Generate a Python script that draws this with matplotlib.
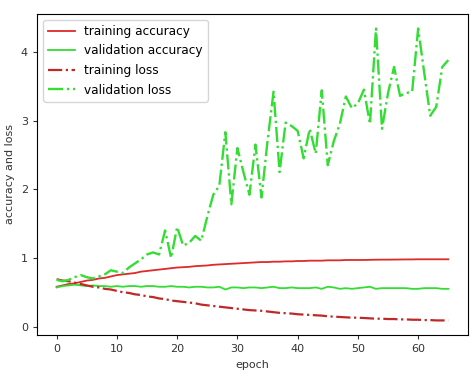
import matplotlib
matplotlib.use('Agg')
import matplotlib.pyplot as plt

# 训练过程数据
epochs = list(range(66))

train_acc = [0.58, 0.60, 0.62, 0.63, 0.65, 0.67, 0.68, 0.70, 0.71, 0.73,
             0.75, 0.76, 0.77, 0.78, 0.80, 0.81, 0.82, 0.83, 0.84, 0.85,
             0.86, 0.865, 0.87, 0.88, 0.885, 0.89, 0.90, 0.905, 0.91, 0.915,
             0.92, 0.925, 0.93, 0.935, 0.94, 0.94, 0.945, 0.945, 0.95, 0.95,
             0.955, 0.955, 0.96, 0.96, 0.96, 0.965, 0.965, 0.965, 0.97, 0.97,
             0.97, 0.97, 0.972, 0.974, 0.975, 0.975, 0.976, 0.977, 0.978, 0.978,
             0.98, 0.98, 0.98, 0.98, 0.98, 0.98]

val_acc = [0.57, 0.59, 0.60, 0.61, 0.60, 0.59, 0.60, 0.59, 0.59, 0.58,
           0.59, 0.58, 0.59, 0.59, 0.58, 0.59, 0.59, 0.58, 0.58, 0.59,
           0.58, 0.58, 0.57, 0.58, 0.58, 0.57, 0.57, 0.58, 0.54, 0.57,
           0.57, 0.56, 0.57, 0.57, 0.56, 0.57, 0.58, 0.56, 0.56, 0.57,
           0.56, 0.56, 0.56, 0.57, 0.55, 0.58, 0.57, 0.55, 0.56, 0.55,
           0.56, 0.57, 0.58, 0.55, 0.56, 0.56, 0.56, 0.56, 0.56, 0.55,
           0.55, 0.56, 0.56, 0.56, 0.55, 0.55]

train_loss = [0.69, 0.67, 0.66, 0.64, 0.62, 0.60, 0.58, 0.57, 0.55, 0.54,
              0.52, 0.50, 0.49, 0.47, 0.46, 0.44, 0.43, 0.41, 0.40, 0.38,
              0.37, 0.36, 0.35, 0.34, 0.32, 0.31, 0.30, 0.29, 0.28, 0.27,
              0.26, 0.25, 0.24, 0.235, 0.23, 0.22, 0.21, 0.20, 0.195, 0.19,
              0.18, 0.175, 0.17, 0.165, 0.16, 0.15, 0.145, 0.14, 0.135, 0.13,
              0.13, 0.125, 0.12, 0.115, 0.115, 0.11, 0.11, 0.105, 0.105, 0.10,
              0.10, 0.095, 0.095, 0.09, 0.09, 0.09]

val_loss = [0.68, 0.66, 0.68, 0.72, 0.75, 0.72, 0.70, 0.73, 0.76, 0.82,
            0.80, 0.78, 0.86, 0.92, 0.98, 1.05, 1.08, 1.05, 1.40, 1.00,
            1.45, 1.18, 1.22, 1.32, 1.25, 1.60, 1.92, 2.05, 2.83, 1.78,
            2.60, 2.25, 1.92, 2.65, 1.88, 2.70, 3.42, 2.25, 2.97, 2.92,
            2.85, 2.45, 2.88, 2.52, 3.44, 2.35, 2.70, 2.95, 3.35, 3.18,
            3.25, 3.45, 2.95, 4.34, 2.88, 3.40, 3.78, 3.36, 3.40, 3.42,
            4.34, 3.70, 3.07, 3.20, 3.78, 3.88]

red = '#dd2a2a'
red_dark = '#c02828'
green = '#33dd33'

fig = plt.figure(figsize=(4.75, 3.76), dpi=100)
ax = fig.add_axes([0.078, 0.109, 0.907, 0.854])

ax.plot(epochs, train_acc, color=red, lw=1.3, label='training accuracy')
ax.plot(epochs, val_acc, color=green, lw=1.3, label='validation accuracy')
ax.plot(epochs, train_loss, color=red_dark, lw=1.6, ls='-.', label='training loss')
ax.plot(epochs, val_loss, color=green, lw=1.7, ls='-.', label='validation loss')

ax.set_xticks([0, 10, 20, 30, 40, 50, 60])
ax.set_yticks([0, 1, 2, 3, 4])
ax.tick_params(labelsize=8, colors='#333333', length=3)
ax.set_xlabel('epoch', fontsize=8, color='#333333')
ax.set_ylabel('accuracy and loss', fontsize=8, color='#333333')
ax.legend(loc='upper left', fontsize=8.7, handlelength=2.2, labelspacing=0.55)

fig.savefig('out.png', dpi=100)
